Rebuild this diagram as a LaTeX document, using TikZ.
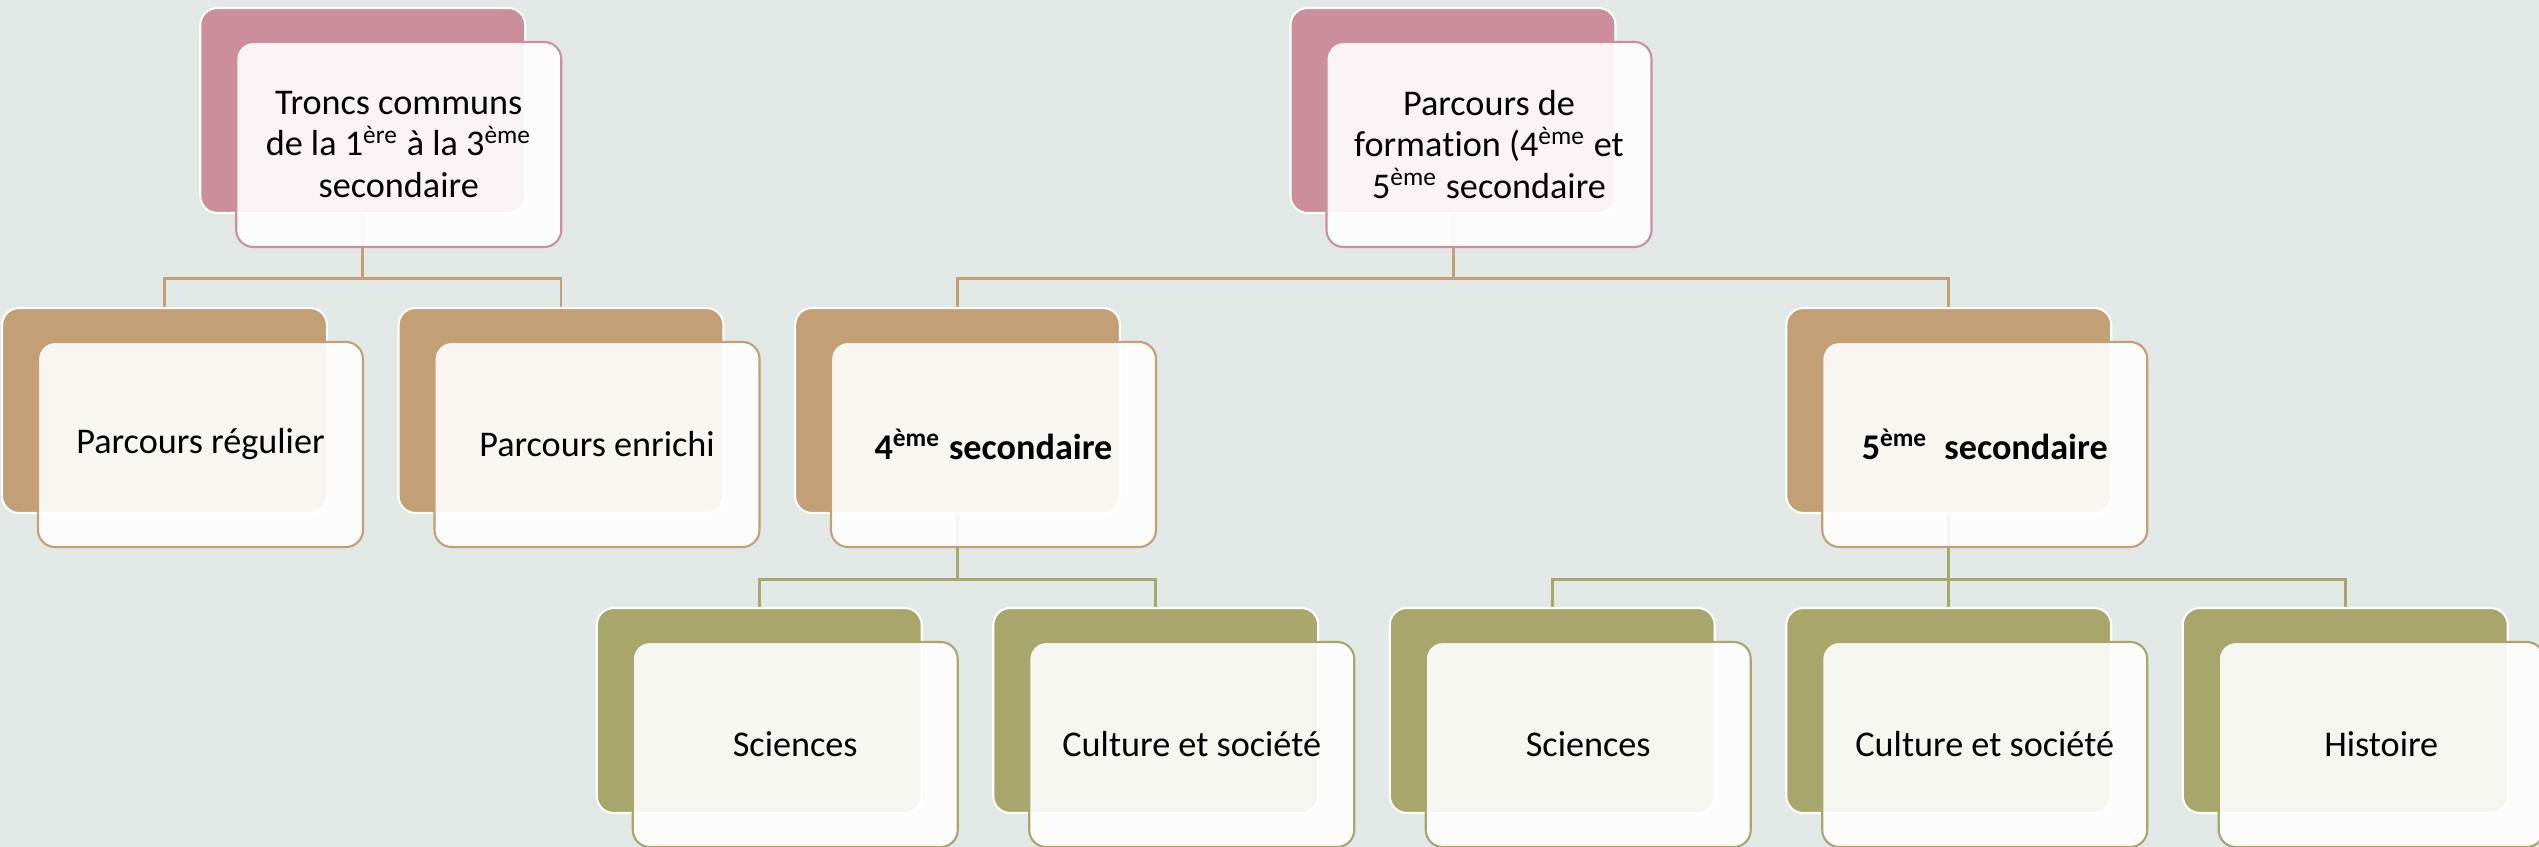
\documentclass[tikz,border=0pt]{standalone}
\usepackage{fontspec}
\setmainfont{Carlito}[Ligatures=NoCommon]
\usetikzlibrary{positioning}
\pgfdeclarelayer{bus}
\pgfsetlayers{bus,main}

\definecolor{fond}{RGB}{226,232,229}
\definecolor{vieuxrose}{RGB}{205,142,156}
\definecolor{sable}{RGB}{194,159,116}
\definecolor{kaki}{RGB}{169,166,107}

\begin{document}
\begin{tikzpicture}[node distance=3.965cm,on grid]
       \tikzstyle{back}=[rectangle, rounded corners=0.17cm, minimum width=3.25cm, minimum height=2.05cm, inner sep=0pt, draw=white, line width=0.6pt]
       \tikzstyle{front}=[back, fill=white, fill opacity=0.9, text opacity=1, align=center, font=\fontsize{10.3}{11.7}\selectfont]
       \tikzstyle{bus}=[line width=0.85pt]

       \useasboundingbox (0,0) rectangle (25.39,-8.47);
       \begin{pgfonlayer}{bus}
         \fill[fond] (0,0) rectangle (25.39,-8.47);
       \end{pgfonlayer}

       % niveau 1
       \node[back, fill=vieuxrose] (tronc) at (3.6275,-1.105) {};
       \node[front, draw=vieuxrose, below right=0.34cm and 0.36cm of tronc] (tronc_f) {Troncs communs\\de la 1\textsuperscript{ère} à la 3\textsuperscript{ème}\\secondaire};
       \node[back, fill=vieuxrose] (form) at (14.53,-1.105) {};
       \node[front, draw=vieuxrose, below right=0.34cm and 0.36cm of form] (form_f) {Parcours de\\forma\kern0pt tion (4\textsuperscript{ème} et\\5\textsuperscript{ème} secondaire};

       % niveau 2
       \node[back, fill=sable] (reg) at (1.645,-4.105) {};
       \node[back, fill=sable] (enr) [right =of reg] {};
       \node[back, fill=sable] (s_4) [right =of enr] {};
       \node[back, fill=sable] (s_5) [right =9.9125cm of s_4] {};
       \node[front, draw=sable, below right=0.34cm and 0.36cm of reg] (reg_f) {Parcours régulier};
       \node[front, draw=sable, below right=0.34cm and 0.36cm of enr] (enr_f) {Parcours enrichi};
       \node[front, draw=sable, below right=0.34cm and 0.36cm of s_4] (s_4f) {\textbf{4\textsuperscript{ème} secondaire}};
       \node[front, draw=sable, below right=0.34cm and 0.36cm of s_5] (s_5f) {\textbf{5\textsuperscript{ème}\ \ secondaire}};

       % niveau 3
       \node[back, fill=kaki] (sci_4) at (7.5925,-7.105) {};
       \node[back, fill=kaki] (cul_4) [right =of sci_4] {};
       \node[back, fill=kaki] (sci_5) [right =of cul_4] {};
       \node[back, fill=kaki] (cul_5) [right =of sci_5] {};
       \node[back, fill=kaki] (hist) [right =of cul_5] {};
       \node[front, draw=kaki, below right=0.34cm and 0.36cm of sci_4] (sci_4f) {Sciences};
       \node[front, draw=kaki, below right=0.34cm and 0.36cm of cul_4] (cul_4f) {Culture et société};
       \node[front, draw=kaki, below right=0.34cm and 0.36cm of sci_5] (sci_5f) {Sciences};
       \node[front, draw=kaki, below right=0.34cm and 0.36cm of cul_5] (cul_5f) {Culture et société};
       \node[front, draw=kaki, below right=0.34cm and 0.36cm of hist] (hist_f) {Histoire};

       \begin{pgfonlayer}{bus}
         \path[bus, draw=sable]
         (tronc.south) -- ++(0,-0.64) -| (reg.north)
         (tronc.south) -- ++(0,-0.64) -| (enr.north)
         (form.south) -- ++(0,-0.64) -| (s_4.north)
         (form.south) -- ++(0,-0.64) -| (s_5.north);
         \path[bus, draw=kaki]
         (s_4.south) -- ++(0,-0.65) -| (sci_4.north)
         (s_4.south) -- ++(0,-0.65) -| (cul_4.north)
         (s_5.south) -- ++(0,-0.65) -| (sci_5.north)
         (s_5.south) -- ++(0,-0.65) -| (cul_5.north)
         (s_5.south) -- ++(0,-0.65) -| (hist.north);
       \end{pgfonlayer}
     \end{tikzpicture}
\end{document}
